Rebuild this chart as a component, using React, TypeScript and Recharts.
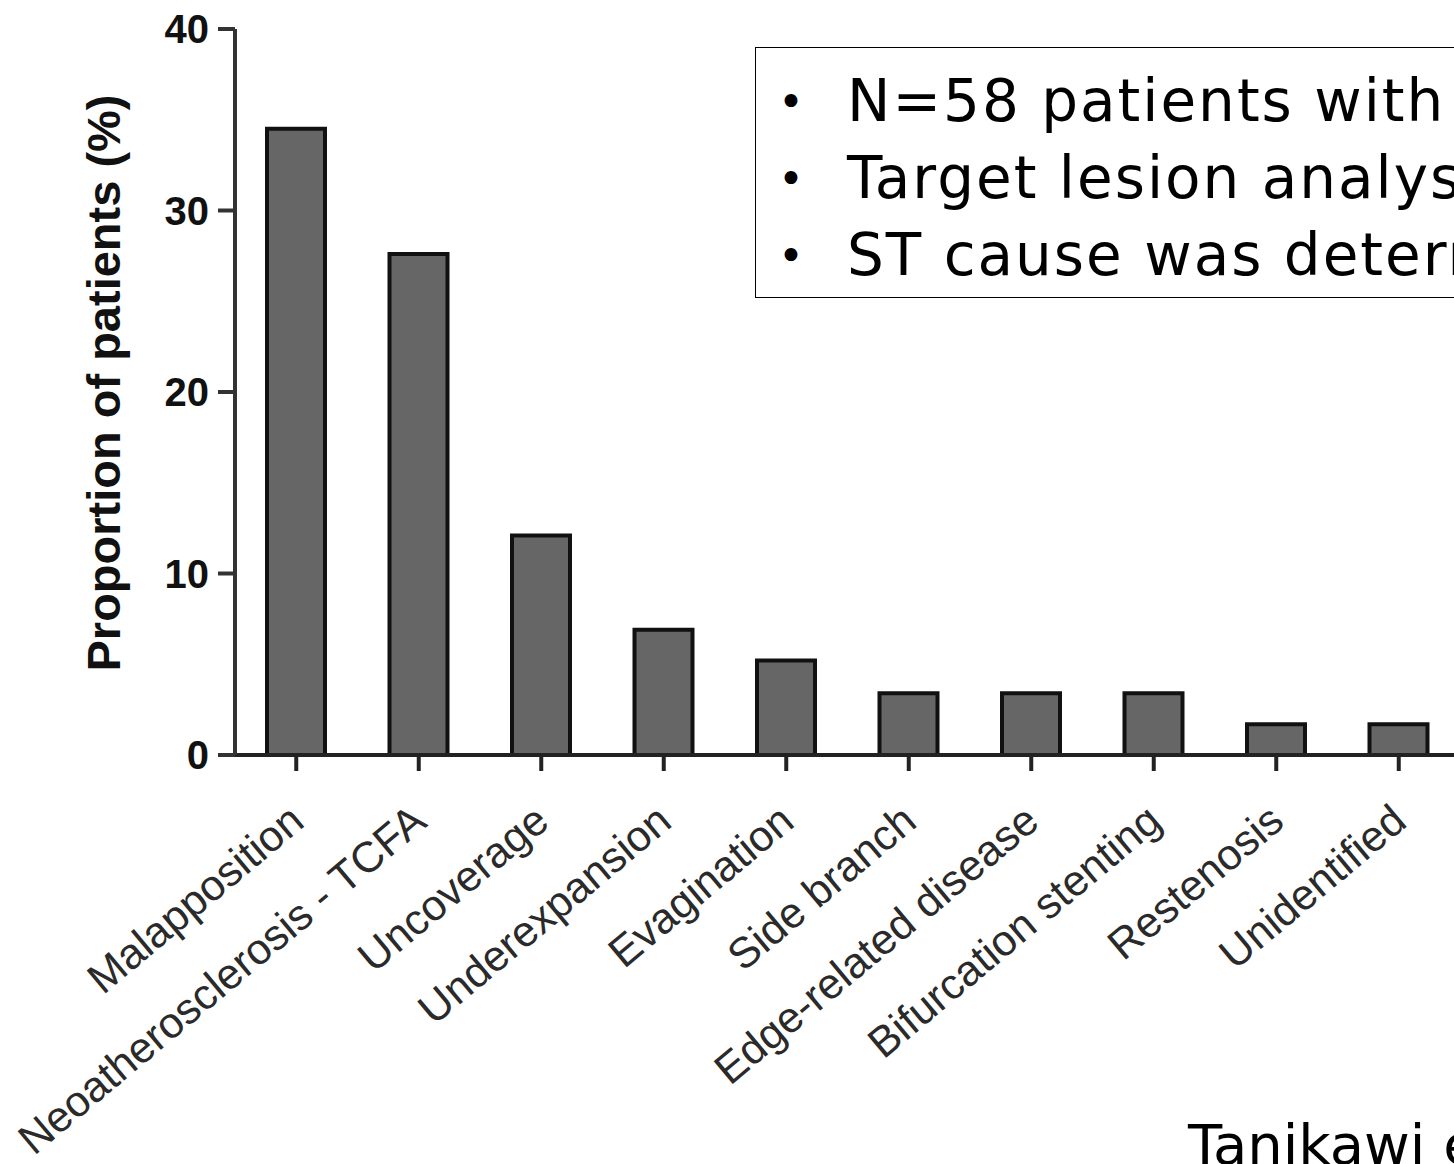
import { BarChart, Bar, XAxis, YAxis } from 'recharts'

// causes of stent thrombosis, % of 58 patients
const causes = [
  'Malapposition',
  'Neoatherosclerosis - TCFA',
  'Uncoverage',
  'Underexpansion',
  'Evagination',
  'Side branch',
  'Edge-related disease',
  'Bifurcation stenting',
  'Restenosis',
  'Unidentified'
]
const proportions = [34.5, 27.6, 12.1, 6.9, 5.2, 3.4, 3.4, 3.4, 1.7, 1.7]
const yTicks = [0, 10, 20, 30, 40]
// the slide is cropped at the right edge, only the visible part is kept
const bullets = ['N=58 patients with', 'Target lesion analys', 'ST cause was determ']
const source = 'Tanikawi e'

const data = causes.map((name, i) => ({ name, value: proportions[i] }))

const XTick = (props: any) => {
  const { x, y, payload } = props
  const ax = x + 10
  const ay = y + 54
  return (
    <text
      x={ax}
      y={ay}
      transform={`rotate(-40 ${ax} ${ay})`}
      textAnchor="end"
      fontSize={43}
      fill="#2a2a2a"
      fontFamily="'Liberation Sans', Arial, sans-serif"
    >
      {payload.value}
    </text>
  )
}

const YLabel = () => (
  <text
    x={120}
    y={383}
    transform="rotate(-90 120 383)"
    textAnchor="middle"
    fontSize={47}
    fontWeight="bold"
    fill="#111"
    fontFamily="'Liberation Sans', Arial, sans-serif"
  >
    Proportion of patients (%)
  </text>
)

export default function App() {
  return (
    <div
      style={{
        position: 'fixed',
        left: 0,
        top: 0,
        width: 1454,
        height: 1164,
        overflow: 'hidden',
        background: '#fff'
      }}
    >
      <BarChart
        width={1460}
        height={1164}
        data={data}
        margin={{ top: 29, right: 0, left: 0, bottom: 0 }}
      >
        <XAxis
          dataKey="name"
          interval={0}
          height={409}
          tickSize={16}
          tickMargin={0}
          axisLine={{ stroke: '#222', strokeWidth: 4 }}
          tickLine={{ stroke: '#222', strokeWidth: 4 }}
          tick={<XTick />}
        />
        <YAxis
          type="number"
          domain={[0, 40]}
          ticks={yTicks}
          width={235}
          tickSize={17}
          tickMargin={9}
          axisLine={{ stroke: '#333', strokeWidth: 4 }}
          tickLine={{ stroke: '#333', strokeWidth: 4 }}
          tick={{
            fontSize: 40,
            fontWeight: 'bold',
            fill: '#111',
            fontFamily: "'Liberation Sans', Arial, sans-serif"
          }}
          label={<YLabel />}
        />
        <Bar
          dataKey="value"
          fill="#666666"
          stroke="#111"
          strokeWidth={4}
          barSize={58}
          isAnimationActive={false}
        />
      </BarChart>

      <div
        style={{
          position: 'absolute',
          left: 755,
          top: 47,
          width: 900,
          height: 251,
          border: '1.5px solid #000',
          boxSizing: 'border-box',
          background: '#fff',
          fontFamily: "'DejaVu Sans', sans-serif",
          fontSize: 58,
          letterSpacing: 2,
          color: '#000',
          whiteSpace: 'nowrap',
          paddingTop: 15
        }}
      >
        {bullets.map((b) => (
          <div key={b} style={{ height: 77, lineHeight: '77px', position: 'relative' }}>
            <span style={{ position: 'absolute', left: 22, fontSize: 44 }}>•</span>
            <span style={{ position: 'absolute', left: 91 }}>{b}</span>
          </div>
        ))}
      </div>

      <div
        style={{
          position: 'absolute',
          left: 1188,
          top: 1113,
          fontFamily: "'DejaVu Sans', sans-serif",
          fontSize: 56,
          color: '#000',
          whiteSpace: 'nowrap',
          lineHeight: '64px'
        }}
      >
        {source}
      </div>
    </div>
  )
}
